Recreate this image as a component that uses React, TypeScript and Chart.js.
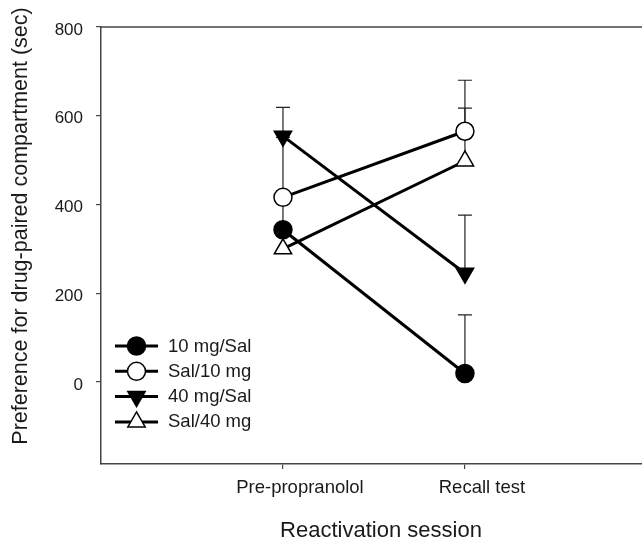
import React, { useEffect, useRef } from 'react';
import { Chart, registerables } from 'chart.js';
Chart.register(...registerables);

// ---- data ----
const categories = ['Pre-propranolol', 'Recall test'];
const seriesNames = ['10 mg/Sal', 'Sal/10 mg', '40 mg/Sal', 'Sal/40 mg'];
const mg10Sal = [343, 19];
const sal10mg = [416, 565];
const mg40Sal = [554, 245];
const sal40mg = [300, 498];
const mg10SalErr = [73, 132];
const sal10mgErr = [135, 115];
const mg40SalErr = [65, 131];
const sal40mgErr = [43, 119];
const yTickValues = [0, 200, 400, 600, 800];
const xTitle = 'Reactivation session';
const yTitle = 'Preference for drug-paired compartment (sec)';

const seriesValues = [mg10Sal, sal10mg, mg40Sal, sal40mg];
const seriesErrors = [mg10SalErr, sal10mgErr, mg40SalErr, sal40mgErr];

const FONT = '"Liberation Sans", Arial, Helvetica, sans-serif';
const TEXT = '#1a1a1a';
const AXIS = '#444';

type Style = { shape: 'circle' | 'triangle'; rot: number; r: number; fill: string };
const styles: Style[] = [
  { shape: 'circle', rot: 0, r: 9, fill: '#000' },
  { shape: 'circle', rot: 0, r: 9, fill: '#fff' },
  { shape: 'triangle', rot: 180, r: 10, fill: '#000' },
  { shape: 'triangle', rot: 0, r: 10, fill: '#fff' },
];

function drawMarker(ctx: CanvasRenderingContext2D, s: Style, x: number, y: number) {
  ctx.save();
  ctx.beginPath();
  if (s.shape === 'circle') {
    ctx.arc(x, y, s.r, 0, Math.PI * 2);
  } else {
    const dir = s.rot === 180 ? -1 : 1;
    const h = s.r * Math.sin((2 * Math.PI) / 3);
    ctx.moveTo(x, y - dir * s.r);
    ctx.lineTo(x + h, y + dir * s.r / 2);
    ctx.lineTo(x - h, y + dir * s.r / 2);
    ctx.closePath();
  }
  ctx.fillStyle = s.fill;
  ctx.fill();
  ctx.lineWidth = 1.5;
  ctx.strokeStyle = '#000';
  ctx.stroke();
  ctx.restore();
}

const errorBarPlugin = {
  id: 'errorBars',
  beforeDatasetsDraw(chart: any) {
    const { ctx, scales } = chart;
    const xs = scales.x, ys = scales.y;
    ctx.save();
    ctx.strokeStyle = '#222';
    ctx.lineWidth = 1.2;
    seriesValues.forEach((vals, i) => {
      vals.forEach((v, j) => {
        const err = seriesErrors[i][j];
        const px = xs.getPixelForValue(j + 1);
        const y0 = ys.getPixelForValue(v);
        const y1 = ys.getPixelForValue(v + err);
        ctx.beginPath();
        ctx.moveTo(px, y0);
        ctx.lineTo(px, y1);
        ctx.moveTo(px - 7, y1);
        ctx.lineTo(px + 7, y1);
        ctx.stroke();
      });
    });
    ctx.restore();
  },
};

const decorPlugin = {
  id: 'decor',
  afterDraw(chart: any) {
    const { ctx, chartArea } = chart;
    ctx.save();
    // top frame line
    ctx.strokeStyle = AXIS;
    ctx.lineWidth = 1.5;
    ctx.beginPath();
    ctx.moveTo(chartArea.left, chartArea.top);
    ctx.lineTo(chart.width, chartArea.top);
    ctx.stroke();

    // legend
    const lx0 = chartArea.left + 14;
    const lx1 = chartArea.left + 57;
    const mx = (lx0 + lx1) / 2;
    const tx = chartArea.left + 67;
    const rowTop = chartArea.bottom - 118;
    const rowGap = 25.3;
    ctx.font = `18.5px ${FONT}`;
    ctx.textBaseline = 'middle';
    ctx.textAlign = 'left';
    seriesNames.forEach((name, i) => {
      const y = rowTop + i * rowGap;
      ctx.strokeStyle = '#000';
      ctx.lineWidth = 3;
      ctx.beginPath();
      ctx.moveTo(lx0, y);
      ctx.lineTo(lx1, y);
      ctx.stroke();
      drawMarker(ctx, styles[i], mx, y);
      ctx.fillStyle = TEXT;
      ctx.fillText(name, tx, y + 0.5);
    });

    // axis titles
    ctx.fillStyle = TEXT;
    ctx.font = `22px ${FONT}`;
    ctx.textAlign = 'center';
    ctx.textBaseline = 'alphabetic';
    ctx.fillText(xTitle, 381, 536.5);

    ctx.font = `21.5px ${FONT}`;
    ctx.translate(26.5, 226);
    ctx.rotate(-Math.PI / 2);
    ctx.fillText(yTitle, 0, 0);
    ctx.restore();
  },
};

export default function App() {
  const ref = useRef<HTMLCanvasElement>(null);
  useEffect(() => {
    const datasets = seriesNames.map((name, i) => ({
      label: name,
      data: seriesValues[i].map((v, j) => ({ x: j + 1, y: v })),
      borderColor: '#000',
      borderWidth: 3,
      pointStyle: styles[i].shape,
      rotation: styles[i].rot,
      pointRotation: styles[i].rot,
      pointRadius: styles[i].r,
      pointHoverRadius: styles[i].r,
      pointBackgroundColor: styles[i].fill,
      pointBorderColor: '#000',
      pointBorderWidth: 1.5,
      fill: false,
      tension: 0,
      clip: false as any,
    }));
    const chart = new Chart(ref.current!, {
      type: 'line',
      data: { datasets },
      plugins: [errorBarPlugin, decorPlugin],
      options: {
        responsive: false,
        animation: false,
        devicePixelRatio: 1,
        layout: { autoPadding: false, padding: { top: 27, left: 0, right: 0, bottom: 0 } },
        plugins: { legend: { display: false }, tooltip: { enabled: false } },
        scales: {
          x: {
            type: 'linear',
            min: 0,
            max: 2.973,
            afterBuildTicks: (s: any) => {
              s.ticks = categories.map((_, i) => ({ value: i + 1 }));
            },
            afterFit: (s: any) => {
              s.height = 75;
            },
            grid: { drawOnChartArea: false, drawTicks: true, tickLength: 5, color: AXIS, lineWidth: 1.2 },
            border: { display: true, color: AXIS, width: 1.5 },
            ticks: {
              callback: (v: any) => categories[Math.round(v) - 1] ?? '',
              font: { family: FONT, size: 18.5 },
              color: TEXT,
              padding: 8,
              labelOffset: 17,
              maxRotation: 0,
              autoSkip: false,
            },
          },
          y: {
            type: 'linear',
            min: -185,
            max: 800,
            afterBuildTicks: (s: any) => {
              s.ticks = yTickValues.map((v) => ({ value: v }));
            },
            afterFit: (s: any) => {
              s.width = 101;
            },
            grid: { drawOnChartArea: false, drawTicks: true, tickLength: 5, color: AXIS, lineWidth: 1.2 },
            border: { display: true, color: AXIS, width: 1.5 },
            ticks: {
              font: { family: FONT, size: 17 },
              color: TEXT,
              padding: 13,
              labelOffset: 3,
            },
          },
        },
      } as any,
    });
    return () => chart.destroy();
  }, []);
  return (
    <div style={{ position: 'fixed', left: 0, top: 0, width: 642, height: 539, background: '#fff', overflow: 'hidden' }}>
      <canvas ref={ref} width={642} height={539} style={{ display: 'block', width: 642, height: 539 }} />
    </div>
  );
}
